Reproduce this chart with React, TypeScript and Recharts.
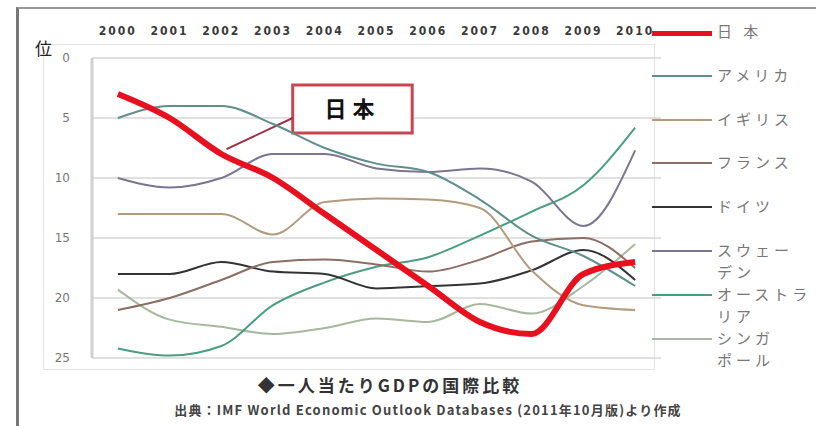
import React from 'react';
import { LineChart, Line, XAxis, YAxis, CartesianGrid, ReferenceArea, ReferenceLine } from 'recharts';

const years = [2000, 2001, 2002, 2003, 2004, 2005, 2006, 2007, 2008, 2009, 2010];
const rankTicks = [0, 5, 10, 15, 20, 25];

const japan = [3, 5, 8, 10, 13, 16, 19, 22, 23, 18, 17];
const usa = [5, 4, 4, 5.5, 7.5, 8.8, 9.5, 11.8, 14.8, 16.5, 19];
const uk = [13, 13, 13, 14.7, 12, 11.7, 11.8, 12.5, 17.7, 20.6, 21];
const france = [21, 20, 18.5, 17, 16.8, 17.2, 17.8, 16.8, 15.3, 15, 17.5];
const germany = [18, 18, 17, 17.8, 18, 19.2, 19, 18.8, 17.7, 16, 18.5];
const sweden = [10, 10.8, 10, 8, 8, 9.2, 9.5, 9.2, 10.3, 14, 7.7];
const australia = [24.2, 24.8, 24, 20.6, 18.7, 17.4, 16.6, 14.8, 12.8, 10.6, 5.8];
const singapore = [19.3, 21.8, 22.4, 23, 22.5, 21.7, 22, 20.5, 21.3, 19, 15.5];

const seriesKeys = ['jp', 'us', 'uk', 'fr', 'de', 'se', 'au', 'sg'];
const seriesValues = [japan, usa, uk, france, germany, sweden, australia, singapore];
const seriesNames = ['日本', 'アメリカ', 'イギリス', 'フランス', 'ドイツ', 'スウェーデン', 'オーストラリア', 'シンガポール'];
const legendLabels = [['日 本'], ['アメリカ'], ['イギリス'], ['フランス'], ['ドイツ'], ['スウェー', 'デン'], ['オーストラ', 'リア'], ['シンガ', 'ポール']];
const seriesColors = ['#e8101f', '#5f8f8a', '#b39b7d', '#8c6e62', '#333333', '#7c7590', '#4a9e80', '#a6b89e'];
const seriesWidths = [6, 2, 2, 2, 2, 2, 2, 2];

const calloutText = '日本';
const calloutBox = { x1: 2003.38, x2: 2005.69, y1: 2.25, y2: 6.25 };
const calloutLeader = [{ x: 2002.1, y: 7.6 }, { x: 2003.38, y: 5 }];

const titleText = '◆一人当たりGDPの国際比較';
const sourceText = '出典：IMF World Economic Outlook Databases (2011年10月版)より作成';

const data = years.map((yr, i) => {
  const row: any = { year: yr };
  seriesKeys.forEach((k, s) => { row[k] = seriesValues[s][i]; });
  return row;
});

const drawOrder = [7, 6, 5, 4, 3, 2, 1, 0];

export default function App() {
  const font = '"Noto Sans CJK JP", "Noto Sans", sans-serif';
  return (
    <div style={{ position: 'absolute', left: 0, top: 0, width: 816, height: 426, background: '#fff', overflow: 'hidden', fontFamily: font }}>
      <div style={{ position: 'absolute', left: 16, top: 7, width: 830, height: 440, borderLeft: '3px solid #777', borderTop: '2px solid #999' }} />
      <div style={{ position: 'absolute', left: 43, top: 44, width: 610, height: 324, border: '1px solid #e4e4e4' }} />
      <LineChart width={816} height={426} data={data} margin={{ top: 28, right: 155, bottom: 68, left: 0 }} style={{ position: 'absolute', left: 0, top: 0 }}>
        <CartesianGrid vertical={false} stroke="#d6d6d6" strokeWidth={1.5} />
        <XAxis dataKey="year" type="number" orientation="top" domain={[1999.5, 2010.5]} ticks={years} height={30}
          tickLine={false} axisLine={false} tickSize={0} tickMargin={23}
          tick={{ fontSize: 12, fill: '#3a3a3a', fontFamily: 'DejaVu Sans Condensed, DejaVu Sans', letterSpacing: 2, fontWeight: 'bold' }} />
        <YAxis type="number" reversed domain={[0, 25]} ticks={rankTicks} width={92}
          tickLine={false} axisLine={{ stroke: '#d0d0d0', strokeWidth: 3 }} tickSize={0} tickMargin={22}
          tick={{ fontSize: 12, fill: '#777', fontFamily: 'DejaVu Sans' }} />
        <ReferenceLine segment={calloutLeader} stroke="#9a3344" strokeWidth={2} ifOverflow="visible" />
        {drawOrder.map((s) => (
          <Line key={seriesKeys[s]} dataKey={seriesKeys[s]} name={seriesNames[s]} type="monotone"
            stroke={seriesColors[s]} strokeWidth={seriesWidths[s]} dot={false} isAnimationActive={false} />
        ))}
        <ReferenceArea x1={calloutBox.x1} x2={calloutBox.x2} y1={calloutBox.y1} y2={calloutBox.y2}
          fill="#fff" fillOpacity={1} stroke="#c8464f" strokeWidth={3} ifOverflow="visible"
          label={{ value: calloutText, position: 'center', fontSize: 22, fontWeight: 'bold', fill: '#111', letterSpacing: 6 }} />
      </LineChart>
      <div style={{ position: 'absolute', left: 35, top: 35, fontSize: 17, color: '#222' }}>位</div>
      {seriesNames.map((n, s) => (
        <div key={n} style={{ position: 'absolute', left: 652, top: 20 + s * 43.8, height: 44 }}>
          <div style={{ position: 'absolute', left: 0, top: 11, width: 60, height: seriesWidths[s] > 2 ? 5 : 2, background: seriesColors[s] }} />
          <div style={{ position: 'absolute', left: 65, top: 0, fontSize: 15, lineHeight: '22px', color: '#777', letterSpacing: 4, whiteSpace: 'nowrap' }}>
            {legendLabels[s].map((l, j) => <div key={j}>{l}</div>)}
          </div>
        </div>
      ))}
      <div style={{ position: 'absolute', left: 0, width: 780, top: 372, textAlign: 'center', fontSize: 17, fontWeight: 'bold', color: '#333', letterSpacing: 3 }}>{titleText}</div>
      <div style={{ position: 'absolute', left: 0, width: 856, top: 400, textAlign: 'center', fontSize: 13, fontWeight: 'bold', color: '#444', letterSpacing: 1.2 }}>{sourceText}</div>
    </div>
  );
}
